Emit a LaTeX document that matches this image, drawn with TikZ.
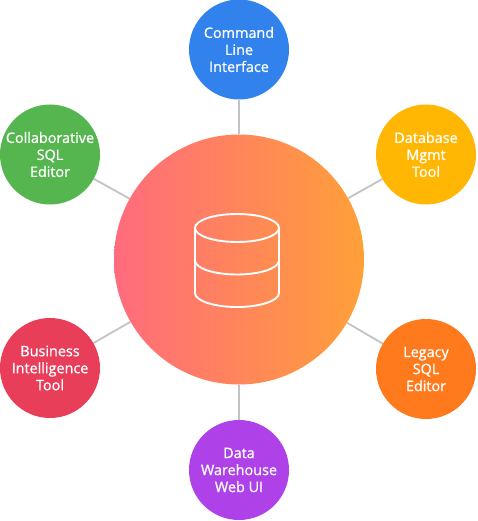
\documentclass[tikz,border=0pt]{standalone}
\usepackage{fontspec}
\setmainfont{Open Sans}[FakeBold=0.9]
\usetikzlibrary{backgrounds}
\definecolor{toolblue}{RGB}{49,130,236}
\definecolor{toolgreen}{RGB}{85,182,79}
\definecolor{toolyellow}{RGB}{255,183,3}
\definecolor{toolorange}{RGB}{255,122,28}
\definecolor{toolred}{RGB}{232,62,90}
\definecolor{toolpurple}{RGB}{174,66,232}
\definecolor{hubleft}{RGB}{255,107,125}
\definecolor{hubright}{RGB}{255,160,56}
\definecolor{linkgray}{RGB}{195,195,195}

\begin{document}
\begin{tikzpicture}[
      x=1pt,y=-1pt,
      tool/.style={circle,inner sep=0pt,minimum size=100pt,align=center,text=white,
                   font=\fontsize{14.4pt}{17pt}\selectfont},
      hub/.style={circle,inner sep=0pt,minimum size=250pt,left color=hubleft,right color=hubright},
      link/.style={draw=linkgray,line width=1.8pt},
      icon/.style={draw=white,line width=1.9pt}
    ]
    \useasboundingbox (0,0) rectangle (477,521);

    \node[hub] (db) at (239,259.5) {};
    \node[tool,fill=toolblue] (cli) at (239,49.5) {Command\\Line\\Interface};
    \node[tool,fill=toolyellow] (mgmt) at (426,154.5) {Database\\Mgmt\\Tool};
    \node[tool,fill=toolorange] (legacy) at (426,369) {Legacy\\SQL\\Editor};
    \node[tool,fill=toolpurple] (web) at (239,470) {Data\\Warehouse\\Web UI};
    \node[tool,fill=toolred] (bi) at (50,368) {Business\\Intelligence\\Tool};
    \node[tool,fill=toolgreen] (collab) at (50,154.5) {Collaborative\\SQL\\Editor};

    \begin{scope}[on background layer]
      \draw[link] (db) -- (cli);
      \draw[link] (db) -- (mgmt);
      \draw[link] (db) -- (legacy);
      \draw[link] (db) -- (web);
      \draw[link] (db) -- (bi);
      \draw[link] (db) -- (collab);
    \end{scope}

    % cylinder in the middle
    \draw[icon] (237,228) ellipse [x radius=42,y radius=14];
    \draw[icon] (195,228) -- (195,293) arc [start angle=180,end angle=360,x radius=42,y radius=-14] -- (279,228);
    \draw[icon] (195,260.5) arc [start angle=180,end angle=360,x radius=42,y radius=-14];
\end{tikzpicture}
\end{document}
